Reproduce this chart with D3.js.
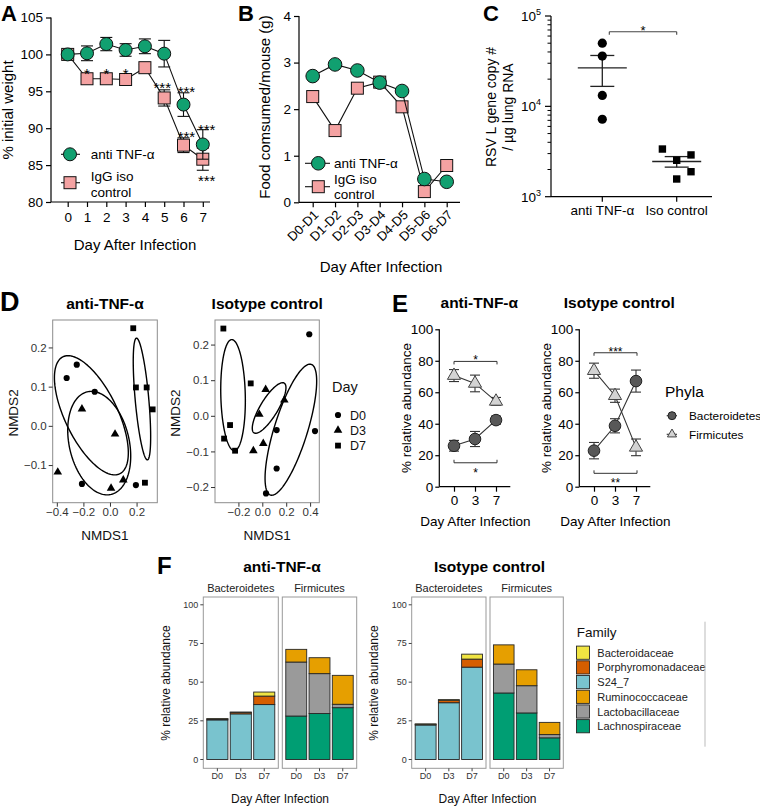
<!DOCTYPE html>
<html><head><meta charset="utf-8">
<script src="https://cdn.jsdelivr.net/npm/d3@7"></script>
<style>
body{margin:0;background:#fff;}
svg text{font-family:"Liberation Sans",Arial,Helvetica,sans-serif;}
</style></head><body>
<svg id="fig" width="760" height="808"></svg>
<script>
// ================= DATA =================
// Panel A: weight
const aDays = [0,1,2,3,4,5,6,7];
const aAntiTNF    = [100,100.15,101.4,100.6,101.1,100.1,93.2,87.8];
const aAntiTNFsem = [0,1.0,0.9,0.85,1.0,1.8,1.6,2.0];
const aIgG        = [100,96.7,96.7,96.6,98.2,94.1,87.7,85.8];
const aIgGsem     = [0,0.3,0.3,0.3,0.4,1.1,1.0,1.5];
const aYTicks = [80,85,90,95,100,105];
const aStars = [[1,97.8,"*"],[2,97.8,"*"],[3,97.8,"*"],[4.9,95.8,"***"],[6.15,95.3,"***"],[6.15,89.2,"***"],[7.2,90.2,"***"],[7.2,83.2,"***"]];

// Panel B: food
const bPeriods = ["D0-D1","D1-D2","D2-D3","D3-D4","D4-D5","D5-D6","D6-D7"];
const bAntiTNF = [2.71,2.96,2.83,2.57,2.39,0.50,0.44];
const bIgG     = [2.27,1.54,2.45,2.58,2.05,0.23,0.79];
const bYTicks = [0,1,2,3,4];

// Panel C: RSV L gene copies
const cGroups = ["anti TNF-α","Iso control"];
const cAntiTNF = [50000,36000,13200,7200];
const cIso     = [2530,1570,2900,1890,3370];
const cPTop = 67000;

// Panel D: NMDS
const dDays = ["D0","D3","D7"];
const dAntiDay = ["D0","D0","D0","D0","D0","D3","D3","D3","D3","D3","D7","D7","D7","D7","D7"];
const dAntiX = [-0.25,-0.326,-0.115,-0.211,0.195, -0.211,0.038,-0.393,0.008,0.1, 0.175,0.195,0.276,0.321,0.263];
const dAntiY = [0.156,0.122,0.087,-0.148,-0.151, 0.043,-0.021,-0.118,-0.159,-0.138, 0.249,0.098,0.098,0.042,-0.145];
const dIsoDay = dAntiDay;
const dIsoX = [0.393,0.12,0.441,0.12,0.031, 0.028,0.184,-0.025,-0.075,0.008, -0.326,-0.097,-0.27,-0.32,-0.228];
const dIsoY = [0.229,-0.04,-0.043,-0.148,-0.218, 0.074,0.044,0.004,-0.098,-0.078, 0.245,0.091,-0.026,-0.064,-0.098];
// ellipses per day: [centre x, centre y, half-width x, half-height y, correlation]
const dAntiEllipses = [[-0.14,0.027,0.278,0.152,-0.63],[-0.081,-0.044,0.237,0.132,-0.25],[0.2405,0.0685,0.0655,0.1552,-0.62]];
const dIsoEllipses  = [[0.239,-0.039,0.216,0.184,0.74],[0.057,0.022,0.141,0.071,0.8],[-0.245,0.058,0.103,0.156,-0.1]];
const dAntiXDomain = [-0.431,0.356], dAntiYDomain = [-0.196,0.27];
const dIsoXDomain  = [-0.396,0.477], dIsoYDomain  = [-0.244,0.269];
const dAntiXTicks = [-0.4,-0.2,0,0.2], dAntiYTicks = [-0.1,0,0.1,0.2];
const dIsoXTicks = [-0.2,0,0.2,0.4],  dIsoYTicks = [-0.2,-0.1,0,0.1,0.2];

// Panel E: phyla
const eDays = ["0","3","7"];
const eAntiBact = [26.0,30.3,42.3], eAntiBactSem = [3.4,4.8,2.6];
const eAntiFirm = [70.6,65.6,54.2], eAntiFirmSem = [3.8,5.3,2.5];
const eIsoBact  = [22.9,38.7,67.1], eIsoBactSem  = [5.2,4.5,7.0];
const eIsoFirm  = [73.7,57.8,25.0], eIsoFirmSem  = [4.8,4.2,5.3];
const eYTicks = [0,20,40,60,80,100];
const eAntiBrackets = [[79.6,"*","top"],[15.2,"*","bottom"]];
const eIsoBrackets  = [[85.1,"***","top"],[8.5,"**","bottom"]];

// Panel F: families (order = fFamilies)
const fFamilies = ["Bacteroidaceae","Porphyromonadaceae","S24_7","Ruminococcaceae","Lactobacillaceae","Lachnospiraceae"];
const fPhylum   = ["Bacteroidetes","Bacteroidetes","Bacteroidetes","Firmicutes","Firmicutes","Firmicutes"];
const fDays = ["D0","D3","D7"];
const fAntiD0 = [0.2,0.6,25.6,8.2,34.9,28.1];
const fAntiD3 = [0.3,0.9,29.5,10.3,25.8,29.7];
const fAntiD7 = [2.6,5.5,35.5,18.7,2.2,33.5];
const fIsoD0  = [0.2,0.5,22.3,12.4,18.7,43.0];
const fIsoD3  = [0.4,1.6,36.7,10.3,17.6,30.1];
const fIsoD7  = [3.2,5.2,59.7,7.9,2.1,14.0];
const fYTicks = [0,25,50,75,100];

// ================= STYLE =================
const FONT = '"Liberation Sans", Arial, Helvetica, sans-serif';
const GREEN = "#11a070", PINK = "#f4a2a2";
const famColor = {Bacteroidaceae:"#f0e442",Porphyromonadaceae:"#d55e00",S24_7:"#79c3ce",
  Ruminococcaceae:"#e69f00",Lactobacillaceae:"#9a9a9a",Lachnospiraceae:"#009e73"};

const svg = d3.select("#fig");
svg.append("rect").attr("width",760).attr("height",808).attr("fill","#fff");

function txt(g,x,y,s,o={}){
  const t=g.append("text").attr("x",x).attr("y",y).text(s)
    .attr("font-size",o.size||13).attr("fill",o.fill||"#000")
    .attr("text-anchor",o.anchor||"start").attr("font-family",FONT);
  if(o.bold) t.attr("font-weight","bold");
  if(o.rotate) t.attr("transform",`rotate(${o.rotate},${x},${y})`);
  return t;
}
function styleAxis(sel,fs,color="#000",sw=1.2){
  sel.select(".domain").remove();
  sel.attr("font-family",FONT);
  sel.selectAll(".tick line").attr("stroke",color).attr("stroke-width",sw);
  sel.selectAll(".tick text").attr("font-size",fs).attr("fill",color).attr("font-family",FONT);
}
function hline(g,x1,x2,y,c="#000",w=1.2){g.append("line").attr("x1",x1).attr("x2",x2).attr("y1",y).attr("y2",y).attr("stroke",c).attr("stroke-width",w);}
function vline(g,x,y1,y2,c="#000",w=1.2){g.append("line").attr("x1",x).attr("x2",x).attr("y1",y1).attr("y2",y2).attr("stroke",c).attr("stroke-width",w);}

// panel letters
txt(svg,1,21,"A",{size:22,bold:true});
txt(svg,238,21,"B",{size:22,bold:true});
txt(svg,483,21,"C",{size:22,bold:true});
txt(svg,0,311,"D",{size:27,bold:true});
txt(svg,392,312,"E",{size:24,bold:true});
txt(svg,157,574,"F",{size:24,bold:true});

// ================= PANEL A =================
{
  const g=svg.append("g");
  const x=d3.scaleLinear().domain([0,7]).range([67.7,202.8]);
  const y=d3.scaleLinear().domain([80,105]).range([202,17.5]);
  styleAxis(g.append("g").attr("transform","translate(51,0)").call(d3.axisLeft(y).tickValues(aYTicks).tickFormat(d3.format("d")).tickSize(5).tickPadding(3)),13.5);
  styleAxis(g.append("g").attr("transform","translate(0,202)").call(d3.axisBottom(x).tickValues(aDays).tickFormat(d3.format("d")).tickSize(5).tickPadding(5)),13.5);
  vline(g,51,y(105),202); hline(g,51,210,202);
  const line=d3.line().x((d,i)=>x(aDays[i])).y(d=>y(d));
  function series(vals,sem,shape,color){
    g.append("path").attr("d",line(vals)).attr("fill","none").attr("stroke","#111").attr("stroke-width",1.1);
    vals.forEach((v,i)=>{ if(sem[i]>0){
      const cx=x(aDays[i]);
      vline(g,cx,y(v-sem[i]),y(v+sem[i]),"#111",1.1);
      hline(g,cx-6,cx+6,y(v-sem[i]),"#111",1.1); hline(g,cx-6,cx+6,y(v+sem[i]),"#111",1.1);
    }});
    vals.forEach((v,i)=>{
      if(shape==="c") g.append("circle").attr("cx",x(aDays[i])).attr("cy",y(v)).attr("r",6.5).attr("fill",color).attr("stroke","#111").attr("stroke-width",1);
      else g.append("rect").attr("x",x(aDays[i])-6).attr("y",y(v)-6).attr("width",12).attr("height",12).attr("fill",color).attr("stroke","#111").attr("stroke-width",1);
    });
  }
  series(aIgG,aIgGsem,"s",PINK);
  series(aAntiTNF,aAntiTNFsem,"c",GREEN);
  aStars.forEach(([d,v,s])=>txt(g,x(d),y(v)+8,s,{size:15,anchor:"middle"}));
  // legend
  hline(g,61,80,154.3,"#111",1.1);
  g.append("circle").attr("cx",70).attr("cy",154.3).attr("r",6.5).attr("fill",GREEN).attr("stroke","#111");
  txt(g,90.7,159,"anti TNF-α",{size:13.5});
  hline(g,61,80,182.7,"#111",1.1);
  g.append("rect").attr("x",64).attr("y",176.7).attr("width",12).attr("height",12).attr("fill",PINK).attr("stroke","#111");
  txt(g,90.7,180.5,"IgG iso",{size:13.5});
  txt(g,90.7,196.5,"control",{size:13.5});
  txt(g,13,110,"% initial weight",{size:15,anchor:"middle",rotate:-90});
  txt(g,135,250,"Day After Infection",{size:15,anchor:"middle"});
}

// ================= PANEL B =================
{
  const g=svg.append("g");
  const x=d3.scalePoint().domain(bPeriods).range([312.7,446.7]);
  const y=d3.scaleLinear().domain([0,4]).range([202.3,16]);
  styleAxis(g.append("g").attr("transform","translate(299,0)").call(d3.axisLeft(y).tickValues(bYTicks).tickFormat(d3.format("d")).tickSize(5).tickPadding(3)),13.5);
  const xa=g.append("g").attr("transform","translate(0,202.3)").call(d3.axisBottom(x).tickSize(5));
  styleAxis(xa,13);
  xa.selectAll(".tick text").attr("text-anchor","end").attr("dy","0.35em").attr("transform","translate(3,10) rotate(-45)").attr("y",0).attr("x",0);
  vline(g,299,y(4),202.3); hline(g,299,460,202.3);
  const line=d3.line().x((d,i)=>x(bPeriods[i])).y(d=>y(d));
  g.append("path").attr("d",line(bIgG)).attr("fill","none").attr("stroke","#111").attr("stroke-width",1.1);
  bIgG.forEach((v,i)=>g.append("rect").attr("x",x(bPeriods[i])-6).attr("y",y(v)-6).attr("width",12).attr("height",12).attr("fill",PINK).attr("stroke","#111"));
  g.append("path").attr("d",line(bAntiTNF)).attr("fill","none").attr("stroke","#111").attr("stroke-width",1.1);
  bAntiTNF.forEach((v,i)=>g.append("circle").attr("cx",x(bPeriods[i])).attr("cy",y(v)).attr("r",6.8).attr("fill",GREEN).attr("stroke","#111"));
  hline(g,305,330,163.3,"#111",1.1);
  g.append("circle").attr("cx",318.3).attr("cy",163.3).attr("r",6.8).attr("fill",GREEN).attr("stroke","#111");
  txt(g,334,168,"anti TNF-α",{size:13.5});
  hline(g,305,330,186.7,"#111",1.1);
  g.append("rect").attr("x",312.3).attr("y",180.7).attr("width",12).attr("height",12).attr("fill",PINK).attr("stroke","#111");
  txt(g,334,184,"IgG iso",{size:13.5});
  txt(g,334,198.5,"control",{size:13.5});
  txt(g,270,107,"Food comsumed/mouse (g)",{size:15,anchor:"middle",rotate:-90});
  txt(g,381,272,"Day After Infection",{size:15,anchor:"middle"});
}

// ================= PANEL C =================
{
  const g=svg.append("g");
  const x=d3.scalePoint().domain(cGroups).range([602.3,676.7]);
  const y=d3.scaleLog().domain([1e3,1e5]).range([196.7,16]);
  vline(g,551,y(1e5),y(1e3)); hline(g,551,712,y(1e3));
  [1e3,1e4,1e5].forEach((v,k)=>{
    hline(g,545,551,y(v));
    const t=txt(g,541,y(v)+5,"10",{size:13.5,anchor:"end"});
    t.append("tspan").attr("dy",-6).attr("font-size",9).text(String(k+3));
  });
  [1e3,1e4].forEach(b=>d3.range(2,10).forEach(m=>hline(g,547.5,551,y(b*m),"#000",1)));
  cGroups.forEach(c=>{vline(g,x(c),y(1e3),y(1e3)+5); txt(g,x(c),215,c,{size:13.5,anchor:"middle"});});
  function dodge(vals){ // simple vertical-collision dodge into columns
    const placed=[]; return vals.map(v=>{const py=y(v);
      for(const s of [0,1,-1]){ if(!placed.some(p=>p.s===s&&Math.abs(p.py-py)<12)){placed.push({s,py});return s;} }
      return 0;});
  }
  function group(vals,name,shape){
    const slots=dodge(vals);
    const m=d3.mean(vals), sem=d3.deviation(vals)/Math.sqrt(vals.length);
    const cx=x(name);
    hline(g,cx-24.5,cx+24.5,y(m),"#222",1.3);
    vline(g,cx,y(m-sem),y(m+sem),"#222",1.3);
    hline(g,cx-12,cx+12,y(m-sem),"#222",1.3); hline(g,cx-12,cx+12,y(m+sem),"#222",1.3);
    vals.forEach((v,i)=>{const px=cx+slots[i]*14.3;
      if(shape==="c") g.append("circle").attr("cx",px).attr("cy",y(v)).attr("r",4.6).attr("fill","#000");
      else g.append("rect").attr("x",px-3.7).attr("y",y(v)-3.7).attr("width",7.4).attr("height",7.4).attr("fill","#000");
    });
  }
  group(cAntiTNF,cGroups[0],"c");
  group(cIso,cGroups[1],"s");
  const by=y(cPTop);
  hline(g,x(cGroups[0])+7,x(cGroups[1]),by,"#444",1.1);
  vline(g,x(cGroups[0])+7,by,by+3,"#444",1.1); vline(g,x(cGroups[1]),by,by+3,"#444",1.1);
  txt(g,(x(cGroups[0])+7+x(cGroups[1]))/2,by+3,"*",{size:13,anchor:"middle"});
  txt(g,496,107,"RSV L gene copy #",{size:14,anchor:"middle",rotate:-90});
  txt(g,513,107,"/ µg lung RNA",{size:14,anchor:"middle",rotate:-90});
}

// ================= PANEL D =================
function drawNMDS(c){
  const g=svg.append("g");
  const x=d3.scaleLinear().domain(c.xDom).range([c.x0,c.x1]);
  const y=d3.scaleLinear().domain(c.yDom).range([c.y1,c.y0]);
  g.append("rect").attr("x",c.x0).attr("y",c.y0).attr("width",c.x1-c.x0).attr("height",c.y1-c.y0).attr("fill","none").attr("stroke","#8c8c8c").attr("stroke-width",1);
  const fmt=d3.format(".1f");
  styleAxis(g.append("g").attr("transform",`translate(${c.x0},0)`).call(d3.axisLeft(y).tickValues(c.yTicks).tickFormat(fmt).tickSize(4).tickPadding(2)),11.5,"#333",1);
  styleAxis(g.append("g").attr("transform",`translate(0,${c.y1})`).call(d3.axisBottom(x).tickValues(c.xTicks).tickFormat(fmt).tickSize(4).tickPadding(1)),11.5,"#333",1);
  const el=d3.line().x(d=>x(d[0])).y(d=>y(d[1])).curve(d3.curveLinearClosed);
  c.ells.forEach(([cx,cy,sx,sy,r])=>{
    const pts=d3.range(160).map(i=>{const t=i/160*2*Math.PI;return [cx+sx*Math.cos(t),cy+sy*(r*Math.cos(t)+Math.sqrt(1-r*r)*Math.sin(t))];});
    g.append("path").attr("d",el(pts)).attr("fill","none").attr("stroke","#000").attr("stroke-width",1.4);
  });
  const sym={D0:d3.symbol().type(d3.symbolCircle).size(30),D3:d3.symbol().type(d3.symbolTriangle).size(32),D7:d3.symbol().type(d3.symbolSquare).size(34)};
  c.xs.forEach((v,i)=>g.append("path").attr("d",sym[c.days[i]]()).attr("transform",`translate(${x(v)},${y(c.ys[i])})`).attr("fill","#000"));
  txt(g,(c.x0+c.x1)/2,309,c.title,{size:15.5,bold:true,anchor:"middle"});
  txt(g,(c.x0+c.x1)/2,540,"NMDS1",{size:13.5,anchor:"middle",fill:"#111"});
  txt(g,c.x0-35,413,"NMDS2",{size:13.5,anchor:"middle",rotate:-90,fill:"#111"});
  return sym;
}
drawNMDS({x0:52.7,x1:157.3,y0:320,y1:502.7,xDom:dAntiXDomain,yDom:dAntiYDomain,xTicks:dAntiXTicks,yTicks:dAntiYTicks,
  xs:dAntiX,ys:dAntiY,days:dAntiDay,ells:dAntiEllipses,title:"anti-TNF-α"});
const dSym=drawNMDS({x0:215,x1:319.3,y0:320,y1:502.7,xDom:dIsoXDomain,yDom:dIsoYDomain,xTicks:dIsoXTicks,yTicks:dIsoYTicks,
  xs:dIsoX,ys:dIsoY,days:dIsoDay,ells:dIsoEllipses,title:"Isotype control"});
{
  const g=svg.append("g");
  txt(g,332,392,"Day",{size:14.5,fill:"#111"});
  dDays.forEach((d,i)=>{const yy=415+i*15.3;
    g.append("path").attr("d",dSym[d]()).attr("transform",`translate(338,${yy})`).attr("fill","#000");
    txt(g,350,yy+4.5,d,{size:12.5,fill:"#111"});});
}

// ================= PANEL E =================
function drawE(c){
  const g=svg.append("g");
  const x=d3.scalePoint().domain(eDays).range([c.ax+14.7,c.ax+56.7]);
  const y=d3.scaleLinear().domain([0,100]).range([486.7,329.3]);
  styleAxis(g.append("g").attr("transform",`translate(${c.ax},0)`).call(d3.axisLeft(y).tickValues(eYTicks).tickSize(4).tickPadding(2)),13.5);
  styleAxis(g.append("g").attr("transform","translate(0,486.7)").call(d3.axisBottom(x).tickSize(5).tickPadding(4)),13.5);
  vline(g,c.ax,y(100),y(0)); hline(g,c.ax,c.ax+71,y(0));
  const line=d3.line().x((d,i)=>x(eDays[i])).y(d=>y(d));
  [[c.firm,c.firmSem],[c.bact,c.bactSem]].forEach(([v,s])=>{
    g.append("path").attr("d",line(v)).attr("fill","none").attr("stroke","#333").attr("stroke-width",1.1);
    v.forEach((val,i)=>{const cx=x(eDays[i]);
      vline(g,cx,y(val-s[i]),y(val+s[i]),"#333",1.1);
      hline(g,cx-5,cx+5,y(val-s[i]),"#333",1.1); hline(g,cx-5,cx+5,y(val+s[i]),"#333",1.1);});
  });
  const tri=d3.symbol().type(d3.symbolTriangle).size(75);
  c.firm.forEach((v,i)=>g.append("path").attr("d",tri()).attr("transform",`translate(${x(eDays[i])},${y(v)})`).attr("fill","#d3d3d3").attr("stroke","#444").attr("stroke-width",1));
  c.bact.forEach((v,i)=>g.append("circle").attr("cx",x(eDays[i])).attr("cy",y(v)).attr("r",5.8).attr("fill","#585858").attr("stroke","#222").attr("stroke-width",1));
  c.brackets.forEach(([v,s,pos])=>{
    const by=y(v), x1=x(eDays[0]), x2=x(eDays[2])+1, d=pos==="top"?3:-3;
    hline(g,x1,x2,by,"#333",1); vline(g,x1,by,by+d,"#333",1); vline(g,x2,by,by+d,"#333",1);
    txt(g,(x1+x2)/2,pos==="top"?by+3:by+14,s,{size:12,anchor:"middle"});
  });
  txt(g,c.ax+40,308,c.title,{size:15.5,bold:true,anchor:"middle"});
  txt(g,c.ax-28.5,408,"% relative abundance",{size:13.5,anchor:"middle",rotate:-90});
  txt(g,c.ax+36,526,"Day After Infection",{size:13.5,anchor:"middle"});
}
drawE({ax:439.3,bact:eAntiBact,bactSem:eAntiBactSem,firm:eAntiFirm,firmSem:eAntiFirmSem,brackets:eAntiBrackets,title:"anti-TNF-α"});
drawE({ax:579.3,bact:eIsoBact,bactSem:eIsoBactSem,firm:eIsoFirm,firmSem:eIsoFirmSem,brackets:eIsoBrackets,title:"Isotype control"});
{
  const g=svg.append("g");
  txt(g,665,397,"Phyla",{size:15.5});
  hline(g,666.7,677,415.7,"#333",1.1);
  g.append("circle").attr("cx",672).attr("cy",415.7).attr("r",4).attr("fill","#585858").attr("stroke","#222");
  txt(g,689,420,"Bacteroidetes",{size:11.8});
  hline(g,666.7,677,434.3,"#333",1.1);
  g.append("path").attr("d",d3.symbol().type(d3.symbolTriangle).size(36)()).attr("transform","translate(672,434.3)").attr("fill","#d3d3d3").attr("stroke","#444");
  txt(g,689,438.5,"Firmicutes",{size:11.8});
}

// ================= PANEL F =================
function drawF(c){
  const g=svg.append("g");
  const y=d3.scaleLinear().domain([0,100]).range([759.5,604.8]);
  const rows=c.days.map((d,k)=>{const r={day:fDays[k]};fFamilies.forEach((f,j)=>r[f]=d[j]);return r;});
  const top=597,bot=768.3;
  c.facets.forEach(([ph,x0,x1])=>{
    const x=d3.scalePoint().domain(fDays).range([x0,x1]).padding(0.6);
    const bw=x.step()*0.9;
    g.append("rect").attr("x",x0).attr("y",top).attr("width",x1-x0).attr("height",bot-top).attr("fill","none").attr("stroke","#999");
    txt(g,(x0+x1)/2,592,ph,{size:11,anchor:"middle",fill:"#222"});
    const keys=fFamilies.filter((f,j)=>fPhylum[j]===ph).reverse();   // bottom -> top
    const series=d3.stack().keys(keys)(rows);
    series.forEach(s=>{
      s.forEach(seg=>{ if(seg[1]-seg[0]<=0) return;
        g.append("rect").attr("x",x(seg.data.day)-bw/2).attr("y",y(seg[1])).attr("width",bw).attr("height",y(seg[0])-y(seg[1]))
          .attr("fill",famColor[s.key]).attr("stroke","#262626").attr("stroke-width",0.9);});
    });
    fDays.forEach(d=>{vline(g,x(d),bot,bot+3,"#444",1);txt(g,x(d),779,d,{size:9,anchor:"middle",fill:"#333"});});
  });
  const lx=c.facets[0][1];
  fYTicks.forEach(v=>{hline(g,lx-3,lx,y(v),"#444",1);txt(g,lx-5,y(v)+3,String(v),{size:9,anchor:"end",fill:"#333"});});
  const cx=(c.facets[0][1]+c.facets[1][2])/2;
  txt(g,cx+2,572,c.title,{size:15.5,bold:true,anchor:"middle"});
  txt(g,lx-33.5,683,"% relative abundance",{size:12,anchor:"middle",rotate:-90,fill:"#111"});
  txt(g,cx,803,"Day After Infection",{size:12,anchor:"middle",fill:"#111"});
}
drawF({days:[fAntiD0,fAntiD3,fAntiD7],facets:[["Bacteroidetes",203.3,278.3],["Firmicutes",282.3,356.7]],title:"anti-TNF-α"});
drawF({days:[fIsoD0,fIsoD3,fIsoD7],facets:[["Bacteroidetes",411.7,486],["Firmicutes",490,563.3]],title:"Isotype control"});
{
  const g=svg.append("g");
  txt(g,576.7,637,"Family",{size:13.5,fill:"#111"});
  fFamilies.forEach((f,i)=>{const yy=652.7+i*14.7;
    g.append("rect").attr("x",576.5).attr("y",yy-6.6).attr("width",13).attr("height",13.2).attr("fill",famColor[f]).attr("stroke","#262626").attr("stroke-width",0.9);
    txt(g,597.3,yy+4,f,{size:11,fill:"#222"});});
  vline(g,705,621.7,746.7,"#bbb",1);
}
</script>
</body></html>
